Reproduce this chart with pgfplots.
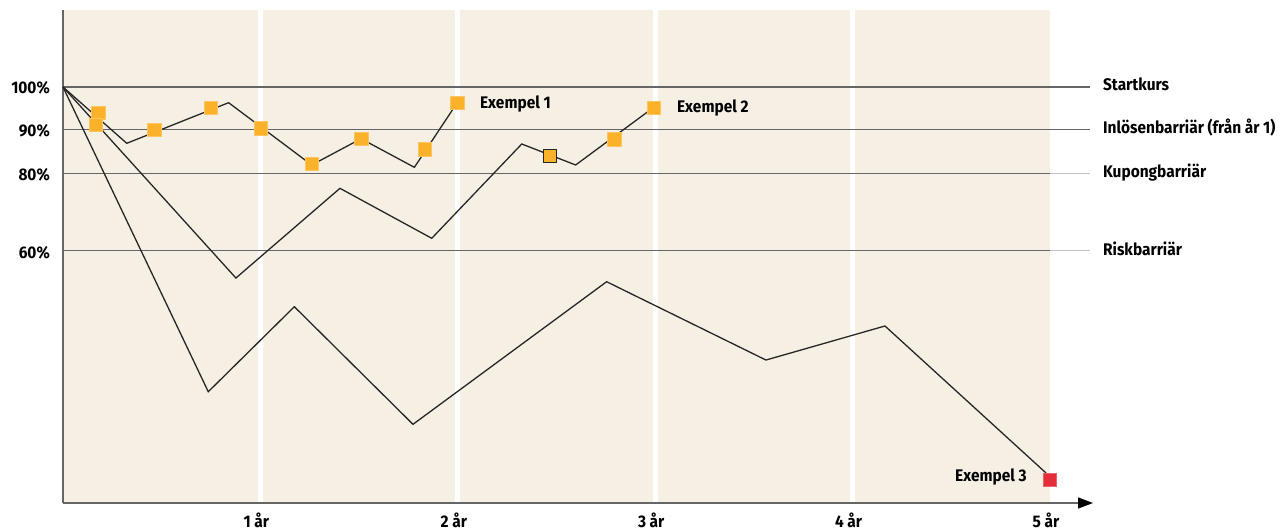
\documentclass[border=0pt]{standalone}
\usepackage{pgfplots}
\pgfplotsset{compat=1.18}
\usetikzlibrary{arrows.meta}
\usepackage{fontspec}
\newfontfamily\lab{Fira Sans}[FakeStretch=0.92]
\newcommand\labfont{\lab\bfseries\fontsize{16.8}{19}\selectfont}
\definecolor{bgbeige}{HTML}{F6F0E4}
\definecolor{mkorange}{HTML}{FBB12A}
\definecolor{mkred}{HTML}{E52D3A}
\definecolor{refline}{HTML}{666666}
\definecolor{reflight}{HTML}{C4C4C4}
\definecolor{axisgray}{HTML}{666666}
\begin{document}
\begin{tikzpicture}
\path[use as bounding box] (0,0) rectangle (1283pt,531pt);
\begin{axis}[
  at={(63pt,28pt)}, anchor=south west,
  width=987pt, height=493pt, scale only axis,
  xmin=0, xmax=5, ymin=-1.46, ymax=118.78,
  clip=false,
  axis background/.style={fill=bgbeige},
  axis x line*=bottom, axis y line*=left,
  axis line style={axisgray, line width=1.3pt},
  x axis line style={-{Triangle[length=15pt,width=11pt,color=black]}, shorten >=-43pt},
  major tick length=0pt, minor tick length=0pt,
  xtick={1,2,3,4,5},
  xticklabels={1 år,2 år,3 år,4 år,5 år},
  minor xtick={1,2,3,4},
  xminorgrids, minor x grid style={white, line width=5pt},
  ytick={60,78.95,89.68,100},
  yticklabels={60\%,80\%,90\%,100\%},
  ticklabel style={font=\labfont, text=black},
  xticklabel style={anchor=base, inner sep=0pt, yshift=-24.5pt, xshift=-4pt},
  yticklabel style={anchor=base east, inner sep=0pt, xshift=-13pt, yshift=-7pt},
]
% reference lines
\addplot[refline, line width=1.3pt] coordinates {(0,100) (5.203,100)};
\addplot[refline, line width=1.3pt] coordinates {(0,89.68) (5.203,89.68)};
\addplot[refline, line width=1.3pt] coordinates {(0,78.95) (5,78.95)};
\addplot[reflight, line width=1.3pt] coordinates {(5,78.95) (5.203,78.95)};
\addplot[refline, line width=1.3pt] coordinates {(0,60.07) (5,60.07)};
\addplot[reflight, line width=1.3pt] coordinates {(5,60.07) (5.203,60.07)};
% Exempel 1
\addplot[black!85, line width=1.3pt] coordinates {
 (0,100) (0.323,86.27) (0.839,96.17) (1.260,80.98) (1.510,87.39) (1.780,80.41) (1.997,96.17)};
% Exempel 2
\addplot[black!85, line width=1.3pt] coordinates {
 (0,100) (0.876,53.41) (1.403,75.29) (1.868,63.10) (2.324,86.10) (2.597,80.98) (2.990,94.95)};
% Exempel 3
\addplot[black!85, line width=1.3pt] coordinates {
 (0,100) (0.736,25.68) (1.172,46.41) (1.773,17.73) (2.754,52.51) (3.561,33.41) (4.164,41.71) (4.980,5.85)};
% markers
\addplot[only marks, mark=square*, mark size=6.7pt,
  mark options={fill=mkorange, draw=mkorange!75!white, line width=0.5pt}] coordinates {
 (0.179,93.73) (0.167,90.73) (0.4625,89.51) (0.748,94.95) (1.003,89.93) (1.260,81.22)
 (1.510,87.39) (1.834,84.80) (1.997,96.17) (2.793,87.24) (2.994,94.95)};
\addplot[only marks, mark=square*, mark size=6.4pt,
  mark options={fill=mkorange, draw=black!85, line width=1.2pt}] coordinates {(2.467,83.17)};
\addplot[only marks, mark=square*, mark size=6.7pt,
  mark options={fill=mkred, draw=mkred!75!white, line width=0.5pt}] coordinates {(4.998,4.15)};
% labels
\node[anchor=base west, inner sep=0pt, font=\labfont] at (axis cs:2.112,94.73) {Exempel 1};
\node[anchor=base west, inner sep=0pt, font=\labfont] at (axis cs:3.110,93.76) {Exempel 2};
\node[anchor=base east, inner sep=0pt, font=\labfont] at (axis cs:4.883,3.76) {Exempel 3};
\node[anchor=base west, inner sep=0pt, font=\labfont] at (axis cs:5.268,99.12) {Startkurs};
\node[anchor=base west, inner sep=0pt, font=\labfont] at (axis cs:5.268,88.56) {Inlösenbarriär (från år 1)};
\node[anchor=base west, inner sep=0pt, font=\labfont] at (axis cs:5.268,77.98) {Kupongbarriär};
\node[anchor=base west, inner sep=0pt, font=\labfont] at (axis cs:5.268,58.88) {Riskbarriär};
\end{axis}
\end{tikzpicture}
\end{document}
